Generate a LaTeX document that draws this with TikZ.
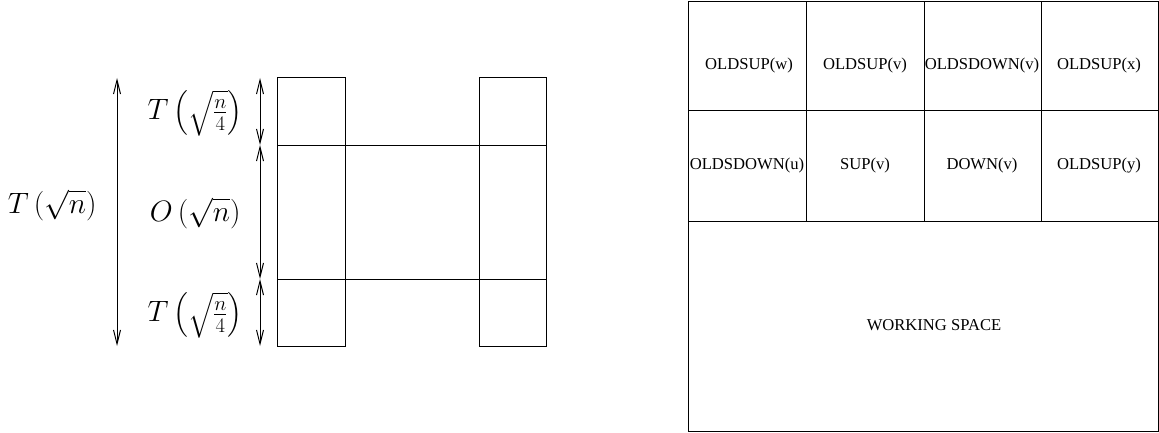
\documentclass[tikz,border=0pt]{standalone}
\usepackage{fix-cm}
\usepackage{amsmath}
\usepackage[no-math]{fontspec}
\newfontfamily\gridfont{Liberation Serif}
\usepackage{tikz}
\usetikzlibrary{
	arrows.meta,
	positioning,
	calc
}

\begin{document}
\begin{tikzpicture}[x=1pt,y=1pt,line width=1pt,
	dimarrow/.style={{Straight Barb[length=14pt,width=7pt]}-{Straight Barb[length=14pt,width=7pt]}},
	mathlabel/.style={anchor=east,inner sep=0pt,font=\fontsize{29.5}{34}\selectfont},
	celllabel/.style={inner sep=0pt,font=\gridfont\fontsize{16.6}{20}\selectfont}]
		
		\useasboundingbox (0,0) rectangle (1159,432);
		
		% left: the two columns and the middle band
		\draw (277,86) rectangle (345,354);
		\draw (479,86) rectangle (546,354);
		\draw (277,153) rectangle (546,287);
		
		\coordinate (a1) at (260,354);
		\coordinate (a2) at (260,287);
		\coordinate (a3) at (260,153);
		\coordinate (a4) at (260,86);
		\coordinate (b1) at (117,354);
		\coordinate (b2) at (117,86);
		
		\draw[dimarrow] (a1) -- (a2);
		\draw[dimarrow] (a2) -- (a3);
		\draw[dimarrow] (a3) -- (a4);
		\draw[dimarrow] (b1) -- (b2);
		
		\node[mathlabel] (top) at (243,319) {$T\left(\sqrt{\frac{n}{4}}\right)$};
		\node[mathlabel] (mid) at (241,219) {$O\left(\sqrt{n}\right)$};
		\node[mathlabel] (bot) at (243,117) {$T\left(\sqrt{\frac{n}{4}}\right)$};
		\node[mathlabel] (all) at (97,227) {$T\left(\sqrt{n}\right)$};
		
		% right: memory layout
		\draw (688,1) rectangle (1158,430);
		\draw (688,321) -- (1158,321);
		\draw (688,211) -- (1158,211);
		\draw (806,211) -- (806,430);
		\draw (924,211) -- (924,430);
		\draw (1041,211) -- (1041,430);
		
		\node[celllabel] (c11) at (749,366) {OLDSUP(w)};
		\node[celllabel] (c12) at (865,366) {OLDSUP(v)};
		\node[celllabel] (c13) at (982,366) {OLDSDOWN(v)};
		\node[celllabel] (c14) at (1099,366) {OLDSUP(x)};
		\node[celllabel] (c21) at (747,266) {OLDSDOWN(u)};
		\node[celllabel] (c22) at (865,266) {SUP(v)};
		\node[celllabel] (c23) at (982,266) {DOWN(v)};
		\node[celllabel] (c24) at (1099,266) {OLDSUP(y)};
		\node[celllabel] (work) at (934,107) {WORKING SPACE};
		
	\end{tikzpicture}
\end{document}
